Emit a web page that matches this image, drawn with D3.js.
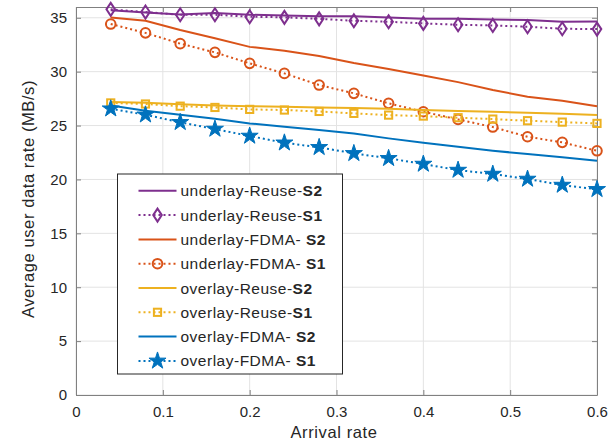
<!DOCTYPE html>
<html>
<head>
<meta charset="utf-8">
<script src="https://cdn.jsdelivr.net/npm/d3@7"></script>
<style>
  body { margin: 0; background: #fff; }
  text { font-family: "Liberation Sans", Arial, sans-serif; }
</style>
</head>
<body>
<svg id="chart" width="613" height="447"></svg>
<script>
const arrivalRate = [0.04, 0.08, 0.12, 0.16, 0.2, 0.24, 0.28, 0.32, 0.36, 0.4, 0.44, 0.48, 0.52, 0.56, 0.6]

const underlayReuseS2 = [35.7, 35.5, 35.3, 35.45, 35.28, 35.2, 35.15, 35.15, 35.03, 34.9, 34.9, 34.85, 34.8, 34.62, 34.66]
const underlayReuseS1 = [35.78, 35.53, 35.28, 35.28, 35.1, 35.04, 34.9, 34.72, 34.63, 34.48, 34.35, 34.29, 34.17, 33.98, 33.95]
const underlayFdmaS2 = [35.03, 34.72, 33.86, 33.1, 32.3, 31.94, 31.45, 30.8, 30.24, 29.65, 29.03, 28.3, 27.67, 27.3, 26.8]
const underlayFdmaS1 = [34.42, 33.6, 32.6, 31.79, 30.77, 29.84, 28.76, 27.99, 27.06, 26.28, 25.57, 24.86, 23.96, 23.44, 22.66]
const overlayReuseS2 = [27.18, 27.12, 26.97, 26.87, 26.8, 26.74, 26.68, 26.64, 26.56, 26.44, 26.34, 26.28, 26.18, 26.1, 25.97]
const overlayReuseS1 = [27.1, 27.0, 26.8, 26.68, 26.5, 26.44, 26.31, 26.13, 25.97, 25.88, 25.73, 25.6, 25.45, 25.32, 25.2]
const overlayFdmaS2 = [26.87, 26.37, 26.0, 25.63, 25.2, 24.89, 24.58, 24.27, 23.81, 23.4, 23.03, 22.66, 22.36, 22.05, 21.74]
const overlayFdmaS1 = [26.56, 26.0, 25.3, 24.68, 24.03, 23.4, 22.98, 22.42, 21.96, 21.43, 20.87, 20.5, 20.04, 19.48, 19.08]

const xTicks = [0, 0.1, 0.2, 0.3, 0.4, 0.5, 0.6]
const yTicks = [0, 5, 10, 15, 20, 25, 30, 35]

const series = [
  { name: 'underlay-Reuse-', tag: 'S2', values: underlayReuseS2, color: '#7E2F8E', dotted: false, marker: null },
  { name: 'underlay-Reuse-', tag: 'S1', values: underlayReuseS1, color: '#7E2F8E', dotted: true, marker: 'diamond' },
  { name: 'underlay-FDMA- ', tag: 'S2', values: underlayFdmaS2, color: '#D95319', dotted: false, marker: null },
  { name: 'underlay-FDMA- ', tag: 'S1', values: underlayFdmaS1, color: '#D95319', dotted: true, marker: 'circle' },
  { name: 'overlay-Reuse-', tag: 'S2', values: overlayReuseS2, color: '#EDB120', dotted: false, marker: null },
  { name: 'overlay-Reuse-', tag: 'S1', values: overlayReuseS1, color: '#EDB120', dotted: true, marker: 'square' },
  { name: 'overlay-FDMA- ', tag: 'S2', values: overlayFdmaS2, color: '#0072BD', dotted: false, marker: null },
  { name: 'overlay-FDMA- ', tag: 'S1', values: overlayFdmaS1, color: '#0072BD', dotted: true, marker: 'star' }
]

const margin = { left: 76, right: 16, top: 7, bottom: 52 }
const width = 613 - margin.left - margin.right
const height = 447 - margin.top - margin.bottom

const svg = d3.select('#chart')
const g = svg.append('g').attr('transform', `translate(${margin.left},${margin.top})`)

const xScale = d3.scaleLinear().domain([0, 0.6]).range([0, width])
const yScale = d3.scaleLinear().domain([0, 36]).range([height, 0])

// grid
g.append('g').selectAll('line').data(xTicks).join('line')
  .attr('x1', d => xScale(d)).attr('x2', d => xScale(d))
  .attr('y1', 0).attr('y2', height)
  .attr('stroke', '#e3e3e3').attr('stroke-width', 1)
g.append('g').selectAll('line').data(yTicks).join('line')
  .attr('x1', 0).attr('x2', width)
  .attr('y1', d => yScale(d)).attr('y2', d => yScale(d))
  .attr('stroke', '#e3e3e3').attr('stroke-width', 1)

// axes, box on like matlab
const xAxis = d3.axisBottom(xScale).tickValues(xTicks).tickSizeInner(-5).tickSizeOuter(0).tickPadding(11).tickFormat(d3.format('~g'))
const yAxis = d3.axisLeft(yScale).tickValues(yTicks).tickSizeInner(-5).tickSizeOuter(0).tickPadding(9)
const xTop = d3.axisTop(xScale).tickValues(xTicks).tickSizeInner(-5).tickSizeOuter(0).tickFormat('')
const yRight = d3.axisRight(yScale).tickValues(yTicks).tickSizeInner(-5).tickSizeOuter(0).tickFormat('')

function styleAxis (sel) {
  sel.select('.domain').attr('stroke', '#808080').attr('stroke-width', 1)
  sel.selectAll('.tick line').attr('stroke', '#808080')
  sel.selectAll('.tick text').attr('fill', '#262626').style('font-size', '15px')
    .style('font-family', '"Liberation Sans", Arial, sans-serif')
}

g.append('g').attr('transform', `translate(0,${height})`).call(xAxis).call(styleAxis)
g.append('g').call(yAxis).call(styleAxis)
g.append('g').call(xTop).call(styleAxis)
g.append('g').attr('transform', `translate(${width},0)`).call(yRight).call(styleAxis)

// lines
const line = d3.line()
  .x((d, i) => xScale(arrivalRate[i]))
  .y(d => yScale(d))

const star = d3.symbol().type(d3.symbolStar).size(90)

function drawMarker (sel, type, color) {
  if (type === 'diamond') {
    sel.append('path').attr('d', 'M0,-6.5L4.3,0L0,6.5L-4.3,0Z')
      .attr('fill', 'none').attr('stroke', color).attr('stroke-width', 2)
  } else if (type === 'circle') {
    sel.append('circle').attr('r', 4.8)
      .attr('fill', 'none').attr('stroke', color).attr('stroke-width', 2)
  } else if (type === 'square') {
    sel.append('rect').attr('x', -3.6).attr('y', -3.6).attr('width', 7.2).attr('height', 7.2)
      .attr('fill', 'none').attr('stroke', color).attr('stroke-width', 2)
  } else if (type === 'star') {
    sel.append('path').attr('d', star())
      .attr('fill', color).attr('stroke', color).attr('stroke-width', 1)
  }
}

series.forEach(s => {
  g.append('path')
    .datum(s.values)
    .attr('d', line)
    .attr('fill', 'none')
    .attr('stroke', s.color)
    .attr('stroke-width', 2)
    .attr('stroke-dasharray', s.dotted ? '2,3' : null)
  if (s.marker) {
    s.values.forEach((v, i) => {
      const m = g.append('g').attr('transform', `translate(${xScale(arrivalRate[i])},${yScale(v)})`)
      drawMarker(m, s.marker, s.color)
    })
  }
})

// legend
const legend = svg.append('g').attr('transform', 'translate(117.5,174)')
legend.append('rect')
  .attr('width', 225).attr('height', 200)
  .attr('fill', '#fff').attr('stroke', '#262626').attr('stroke-width', 1)

series.forEach((s, i) => {
  const row = legend.append('g').attr('transform', `translate(0,${16.8 + i * 24.3})`)
  row.append('line')
    .attr('x1', 21).attr('x2', 59)
    .attr('stroke', s.color).attr('stroke-width', 2)
    .attr('stroke-dasharray', s.dotted ? '2,3' : null)
  if (s.marker) {
    const m = row.append('g').attr('transform', 'translate(40,0)')
    drawMarker(m, s.marker, s.color)
  }
  const t = row.append('text')
    .attr('x', 63).attr('y', 5.5)
    .attr('fill', '#262626')
    .style('font-size', '15.5px')
    .style('letter-spacing', '0.5px')
    .attr('xml:space', 'preserve')
  t.append('tspan').text(s.name)
  t.append('tspan').attr('font-weight', 'bold').text(s.tag)
})

// axis labels
svg.append('text')
  .attr('x', 334).attr('y', 437.5)
  .attr('text-anchor', 'middle')
  .attr('fill', '#262626')
  .style('font-size', '16.5px')
  .style('letter-spacing', '0.6px')
  .text('Arrival rate')

svg.append('text')
  .attr('transform', 'translate(34,199) rotate(-90)')
  .attr('text-anchor', 'middle')
  .attr('fill', '#262626')
  .style('font-size', '16.5px')
  .style('letter-spacing', '0.6px')
  .text('Average user data rate (MB/s)')
</script>
</body>
</html>
